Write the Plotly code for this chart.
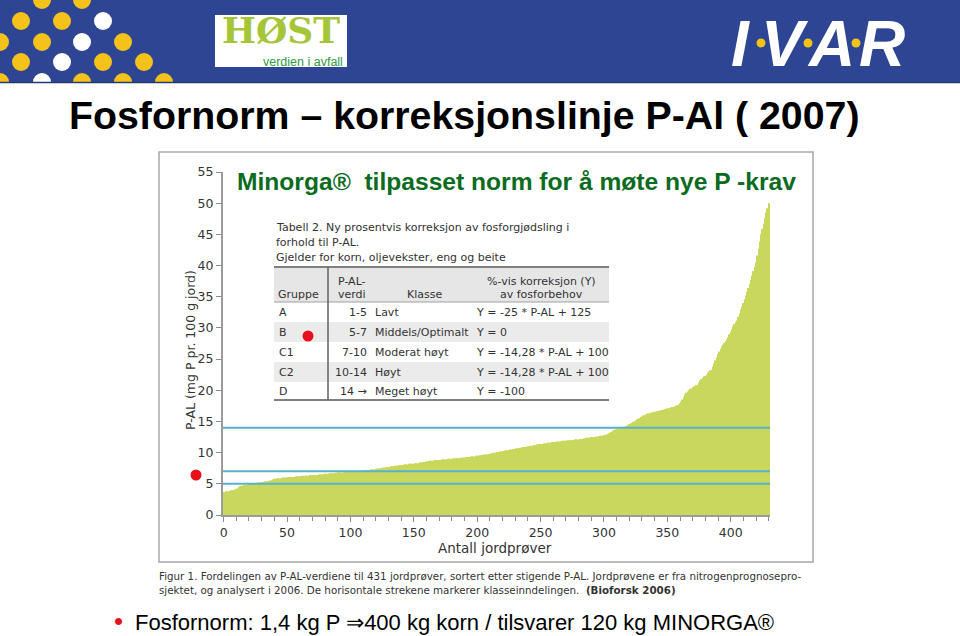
import plotly.graph_objects as go

# ---------------- data ----------------
pal_values = [
    3.7, 3.7, 3.8, 3.8, 3.8, 3.9, 3.9, 4.0, 4.0, 4.1,
    4.2, 4.3, 4.5, 4.6, 4.7, 4.7, 4.8, 4.8, 4.8, 4.9,
    4.9, 4.9, 5.0, 5.0, 5.1, 5.1, 5.1, 5.2, 5.2, 5.2,
    5.3, 5.3, 5.3, 5.4, 5.4, 5.4, 5.5, 5.5, 5.6, 5.7,
    5.8, 5.8, 5.8, 5.9, 5.9, 5.9, 5.9, 6.0, 6.0, 6.0,
    6.0, 6.0, 6.1, 6.1, 6.1, 6.1, 6.1, 6.2, 6.2, 6.2,
    6.2, 6.2, 6.3, 6.3, 6.3, 6.3, 6.3, 6.3, 6.4, 6.4,
    6.4, 6.4, 6.4, 6.4, 6.4, 6.5, 6.5, 6.5, 6.5, 6.6,
    6.6, 6.6, 6.6, 6.6, 6.7, 6.7, 6.7, 6.7, 6.7, 6.8,
    6.8, 6.8, 6.8, 6.8, 6.8, 6.8, 6.9, 6.9, 6.9, 6.9,
    6.9, 6.9, 7.0, 7.0, 7.0, 7.0, 7.0, 7.1, 7.1, 7.1,
    7.1, 7.1, 7.2, 7.2, 7.2, 7.2, 7.3, 7.3, 7.3, 7.3,
    7.4, 7.4, 7.4, 7.5, 7.5, 7.5, 7.6, 7.6, 7.6, 7.7,
    7.7, 7.7, 7.8, 7.8, 7.8, 7.9, 7.9, 7.9, 8.0, 8.0,
    8.0, 8.0, 8.1, 8.1, 8.1, 8.1, 8.2, 8.2, 8.2, 8.2,
    8.2, 8.3, 8.3, 8.3, 8.3, 8.4, 8.4, 8.5, 8.5, 8.5,
    8.6, 8.6, 8.6, 8.7, 8.7, 8.7, 8.7, 8.8, 8.8, 8.8,
    8.8, 8.8, 8.9, 8.9, 8.9, 8.9, 8.9, 9.0, 9.0, 9.0,
    9.0, 9.0, 9.1, 9.1, 9.1, 9.1, 9.1, 9.2, 9.2, 9.2,
    9.2, 9.3, 9.3, 9.3, 9.3, 9.4, 9.4, 9.4, 9.4, 9.5,
    9.5, 9.5, 9.6, 9.6, 9.6, 9.7, 9.7, 9.7, 9.7, 9.8,
    9.8, 9.9, 9.9, 10.0, 10.0, 10.0, 10.1, 10.1, 10.2, 10.2,
    10.2, 10.3, 10.3, 10.4, 10.4, 10.4, 10.5, 10.5, 10.6, 10.6,
    10.6, 10.7, 10.7, 10.7, 10.8, 10.8, 10.9, 10.9, 10.9, 11.0,
    11.0, 11.0, 11.1, 11.1, 11.1, 11.2, 11.2, 11.3, 11.3, 11.3,
    11.4, 11.4, 11.4, 11.5, 11.5, 11.5, 11.6, 11.6, 11.6, 11.7,
    11.7, 11.7, 11.7, 11.8, 11.8, 11.8, 11.8, 11.9, 11.9, 11.9,
    11.9, 11.9, 12.0, 12.0, 12.0, 12.0, 12.0, 12.1, 12.1, 12.1,
    12.1, 12.2, 12.2, 12.2, 12.3, 12.3, 12.3, 12.4, 12.4, 12.4,
    12.5, 12.5, 12.5, 12.5, 12.6, 12.6, 12.6, 12.7, 12.7, 12.7,
    12.8, 12.8, 12.9, 13.0, 13.1, 13.2, 13.3, 13.5, 13.6, 13.7,
    13.8, 13.8, 13.9, 13.9, 14.0, 14.0, 14.1, 14.2, 14.3, 14.4,
    14.6, 14.7, 14.8, 14.9, 15.0, 15.2, 15.3, 15.4, 15.5, 15.7,
    15.8, 15.9, 16.0, 16.1, 16.2, 16.3, 16.3, 16.4, 16.4, 16.5,
    16.5, 16.6, 16.6, 16.7, 16.7, 16.8, 16.8, 16.9, 17.0, 17.0,
    17.1, 17.1, 17.2, 17.2, 17.3, 17.3, 17.4, 17.5, 17.6, 17.7,
    17.9, 18.2, 18.5, 18.9, 19.3, 19.6, 19.8, 20.0, 20.2, 20.3,
    20.5, 20.6, 20.7, 20.8, 20.9, 21.2, 21.5, 21.8, 22.0, 22.2,
    22.3, 22.5, 22.8, 23.0, 23.2, 23.3, 23.8, 24.3, 24.8, 25.3,
    25.8, 26.2, 26.6, 27.0, 27.3, 27.6, 27.9, 28.2, 28.5, 29.0,
    29.4, 29.8, 30.2, 30.6, 30.9, 31.2, 31.8, 32.3, 32.9, 33.4,
    34.0, 34.6, 35.2, 35.8, 36.4, 37.0, 37.7, 38.4, 39.1, 39.8,
    40.5, 41.6, 42.7, 43.8, 45.0, 45.9, 46.7, 47.6, 48.5, 49.2,
    50.0,
]
sample_index = list(range(len(pal_values)))
class_limits = [5, 7, 14]

table_groups = ["A", "B", "C1", "C2", "D"]
table_pal = ["1-5", "5-7", "7-10", "10-14", "14 \u2192"]
table_class = ["Lavt", "Middels/Optimalt", "Moderat h\u00f8yt", "H\u00f8yt", "Meget h\u00f8yt"]
table_formula = ["Y = -25 * P-AL + 125", "Y = 0", "Y = -14,28 * P-AL + 100",
                 "Y = -14,28 * P-AL + 100", "Y = -100"]

W, H = 960, 636


def px(x):
    return x / W


def py(y):
    return 1 - y / H


SANS = "Liberation Sans, Arial, sans-serif"
SMALL = "DejaVu Sans, Verdana, sans-serif"

fig = go.Figure()
fig.add_trace(go.Bar(x=sample_index, y=pal_values, marker_color="#c9d85c",
                     marker_line_width=0, hoverinfo="skip"))

shapes = []
annotations = []


def rect(x0, y0, x1, y1, fill, line_color=None, line_width=0, layer="above"):
    shapes.append(dict(type="rect", xref="paper", yref="paper",
                       x0=px(x0), x1=px(x1), y0=py(y1), y1=py(y0),
                       fillcolor=fill, layer=layer,
                       line=dict(color=line_color or fill, width=line_width)))


def hline(x0, x1, y, color, width):
    shapes.append(dict(type="line", xref="paper", yref="paper",
                       x0=px(x0), x1=px(x1), y0=py(y), y1=py(y),
                       line=dict(color=color, width=width)))


def vline(x, y0, y1, color, width):
    shapes.append(dict(type="line", xref="paper", yref="paper",
                       x0=px(x), x1=px(x), y0=py(y0), y1=py(y1),
                       line=dict(color=color, width=width)))


def circle(cx, cy, r, color):
    shapes.append(dict(type="circle", xref="paper", yref="paper",
                       x0=px(cx - r), x1=px(cx + r), y0=py(cy + r), y1=py(cy - r),
                       fillcolor=color, line=dict(width=0)))


def text(x, y, s, size, color="#000", family=SANS, xanchor="left", yanchor="middle", **kw):
    annotations.append(dict(xref="paper", yref="paper", x=px(x), y=py(y), text=s,
                            showarrow=False, xanchor=xanchor, yanchor=yanchor,
                            font=dict(size=size, color=color, family=family), **kw))


# ---------------- header ----------------
rect(0, 0, 960, 82, "#2d4592")
YEL, WHT = "#f4c21a", "#ffffff"
dots = [(42, 0, YEL), (82, 0, YEL),
        (21, 21, YEL), (62, 21, YEL), (103, 21, WHT),
        (0, 42, YEL), (42, 42, YEL), (82, 42, WHT), (123, 42, YEL),
        (21, 62, YEL), (62, 62, WHT), (103, 62, YEL), (144, 62, YEL),
        (0, 82, YEL), (42, 82, WHT), (82, 82, YEL), (123, 82, YEL), (164, 82, YEL)]
for cx, cy, c in dots:
    circle(cx, cy, 9, c)
rect(0, 83, 960, 95, "#ffffff")
hline(0, 960, 82.5, "#24397a", 1.5)

# HØST logo
rect(215, 15, 347, 67, "#ffffff")
text(281, 30, "<b>H\u00d8ST</b>", 36, "#a6c63a", "DejaVu Serif, serif", xanchor="center")
text(345, 62, "verdien i avfall", 12.5, "#2f9a48", SANS, xanchor="right")

# IVAR logo: letters and yellow dots
for letter, cx in zip(["I", "V", "A", "R"], [740, 785, 831, 882]):
    text(cx, 44, "<b><i>" + letter + "</i></b>", 64, "#ffffff", SANS, xanchor="center")
for cx in [761, 808, 856]:
    circle(cx, 43, 4.5, YEL)

# ---------------- title ----------------
text(67, 115, "<b>Fosfornorm \u2013 korreksjonslinje P-Al ( 2007)</b>", 39.3, "#000000", SANS)

# ---------------- chart frame ----------------
rect(159, 152, 813, 562, "#ffffff", "#a8a8a8", 1.5, layer="below")

text(235, 181, "<b>Minorga\u00ae  tilpasset norm for \u00e5 m\u00f8te nye P -krav</b>", 24.6, "#0b6b1e", SANS)

# class limit lines
for v in class_limits:
    shapes.append(dict(type="line", xref="x", yref="y", x0=-0.5, x1=431, y0=v, y1=v,
                       line=dict(color="#56b3cb", width=2)))

# ---------------- table ----------------
TC = "#333333"
TS = 11
text(274, 228, "Tabell 2. Ny prosentvis korreksjon av fosforgj\u00f8dsling i", TS, TC, SMALL)
text(274, 242, "forhold til P-AL.", TS, TC, SMALL)
text(274, 257, "Gjelder for korn, oljevekster, eng og beite", TS, TC, SMALL)
rect(274, 267, 609, 302, "#e6e6e6")
rect(274, 322, 609, 342, "#ebebeb")
rect(274, 362, 609, 382, "#ebebeb")
hline(274, 609, 267, "#808080", 2)
hline(274, 609, 302, "#a0a0a0", 1)
hline(274, 609, 400, "#808080", 2)
vline(328, 267, 400, "#606060", 1.5)
text(276, 295, "Gruppe", TS, TC, SMALL)
text(336, 281, "P-AL-", TS, TC, SMALL)
text(336, 295, "verdi", TS, TC, SMALL)
text(424, 295, "Klasse", TS, TC, SMALL, xanchor="center")
text(541, 281, "%-vis korreksjon (Y)", TS, TC, SMALL, xanchor="center")
text(541, 295, "av fosforbehov", TS, TC, SMALL, xanchor="center")
row_y = [312, 332, 352, 372, 391]
for g, p, k, f, yy in zip(table_groups, table_pal, table_class, table_formula, row_y):
    text(277, yy, g, TS, TC, SMALL)
    text(369, yy, p, TS, TC, SMALL, xanchor="right")
    text(373, yy, k, TS, TC, SMALL)
    text(474, yy, f, TS, TC, SMALL)

# red dots
circle(308, 336, 5.5, "#e8101a")
circle(196, 475, 5.5, "#e8101a")

# axis titles
text(190, 350, "P-AL (mg P pr. 100 g jord)", 12.5, TC, SMALL, xanchor="center", textangle=-90)
text(495, 548, "Antall jordpr\u00f8ver", 13.5, TC, SMALL, xanchor="center")

# caption
text(157, 576, "Figur 1. Fordelingen av P-AL-verdiene til 431 jordpr\u00f8ver, sortert etter stigende P-AL. "
     "Jordpr\u00f8vene er fra nitrogenprognosepro-", 10.3, TC, SMALL)
text(157, 590, "sjektet, og analysert i 2006. De horisontale strekene markerer klasseinndelingen.  "
     "<b>(Bioforsk 2006)</b>", 10.3, TC, SMALL)

# bullet
text(118, 621, "\u2022", 26, "#e0141e", SANS, xanchor="center")
text(133, 622, "Fosfornorm: 1,4 kg P \u21d2400 kg korn / tilsvarer 120 kg MINORGA\u00ae", 22, "#000000", SANS)

fig.update_layout(
    width=W, height=H, autosize=False,
    margin=dict(l=0, r=0, t=0, b=0, pad=0, autoexpand=False),
    paper_bgcolor="#ffffff", plot_bgcolor="rgba(0,0,0,0)",
    showlegend=False, bargap=0.12,
    shapes=shapes, annotations=annotations,
    xaxis=dict(domain=[px(223), px(770)], range=[-0.5, 431], tick0=0, dtick=50,
               ticks="outside", ticklen=5, tickcolor="#8a8a8a", tickwidth=1, automargin=False,
               minor=dict(dtick=10, ticks="outside", ticklen=4, tickcolor="#8a8a8a"),
               showline=True, linecolor="#9a9a9a", linewidth=2, showgrid=False, zeroline=False,
               tickfont=dict(size=12.5, color=TC, family=SMALL)),
    yaxis=dict(domain=[py(515), py(172)], range=[0, 55], tick0=0, dtick=5,
               ticks="outside", ticklen=5, tickcolor="#8a8a8a", tickwidth=1, automargin=False,
               showline=True, linecolor="#9a9a9a", linewidth=2, showgrid=False, zeroline=False,
               tickfont=dict(size=12.5, color=TC, family=SMALL)),
)

fig.write_html(
    "out.html",
    config={"displayModeBar": False},
    post_script=(
        "document.documentElement.style.margin='0';"
        "document.body.style.margin='0';"
        "document.body.style.padding='0';"
        "document.documentElement.style.overflow='hidden';"
        "var d=document.getElementById('{plot_id}');"
        "d.style.position='fixed';d.style.left='0px';d.style.top='0px';"
    ),
)
